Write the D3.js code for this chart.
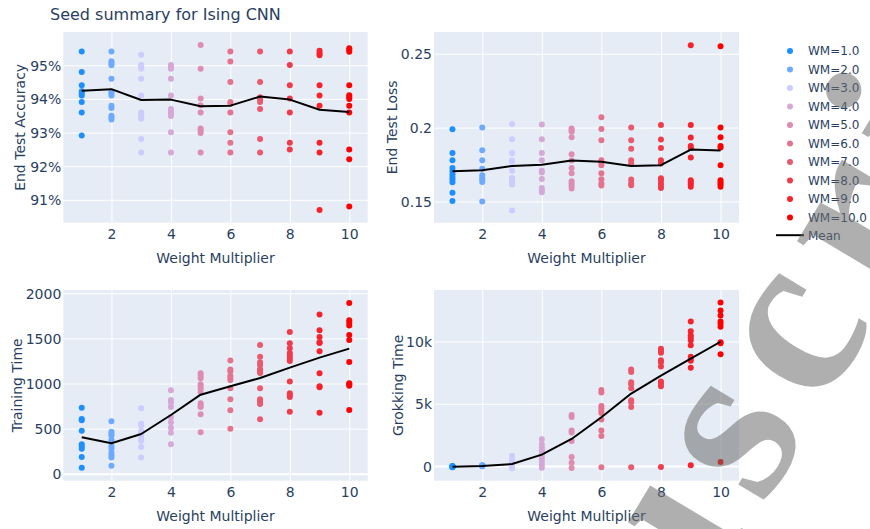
<!DOCTYPE html>
<html>
<head>
<meta charset="utf-8">
<script src="https://cdn.jsdelivr.net/npm/d3@7"></script>
<style>
  html, body { margin: 0; padding: 0; background: #fff; }
  svg { display: block; font-family: "DejaVu Sans", Verdana, sans-serif; }
</style>
</head>
<body>
<svg id="chart" width="870" height="529"></svg>
<script>
// ---- data -------------------------------------------------------------
const weightMultipliers = [1, 2, 3, 4, 5, 6, 7, 8, 9, 10];
const legendLabels = ["WM=1.0", "WM=2.0", "WM=3.0", "WM=4.0", "WM=5.0",
                      "WM=6.0", "WM=7.0", "WM=8.0", "WM=9.0", "WM=10.0"];
const seriesColors = ["#1e8fff", "#6eaaff", "#ccccff", "#d6a8d6", "#dd8cb2",
                      "#e3738f", "#e95a6e", "#ef3c4b", "#f6232d", "#ff0000"];

// per-seed end test accuracy, one list per weight multiplier
const endTestAccuracy = [
  [0.9541, 0.9480, 0.9441, 0.9423, 0.9416, 0.9410, 0.9391, 0.9360, 0.9291],
  [0.9541, 0.9512, 0.9506, 0.9500, 0.9460, 0.9421, 0.9416, 0.9410, 0.9380, 0.9373, 0.9350, 0.9345, 0.9339],
  [0.9531, 0.9501, 0.9495, 0.9490, 0.9460, 0.9410, 0.9360, 0.9353, 0.9347, 0.9341, 0.9281, 0.9241],
  [0.9501, 0.9495, 0.9490, 0.9460, 0.9410, 0.9370, 0.9364, 0.9356, 0.9349, 0.9301, 0.9241],
  [0.9560, 0.9490, 0.9401, 0.9381, 0.9360, 0.9312, 0.9306, 0.9299, 0.9241],
  [0.9541, 0.9511, 0.9450, 0.9391, 0.9385, 0.9360, 0.9301, 0.9270, 0.9241],
  [0.9541, 0.9450, 0.9405, 0.9398, 0.9391, 0.9370, 0.9281, 0.9241],
  [0.9541, 0.9501, 0.9441, 0.9401, 0.9360, 0.9270, 0.9250],
  [0.9543, 0.9536, 0.9530, 0.9441, 0.9410, 0.9380, 0.9270, 0.9241, 0.9070],
  [0.9551, 0.9546, 0.9540, 0.9441, 0.9411, 0.9405, 0.9400, 0.9380, 0.9360, 0.9250, 0.9221, 0.9080]
];
const endTestAccuracyMean = [0.9424, 0.9429, 0.9397, 0.9398, 0.9378, 0.9380, 0.9407, 0.9398, 0.9368, 0.9361];

// per-seed end test loss
const endTestLoss = [
  [0.1989, 0.1828, 0.1779, 0.1727, 0.1705, 0.1684, 0.1666, 0.1650, 0.1630, 0.1558, 0.1503],
  [0.2000, 0.1847, 0.1779, 0.1722, 0.1677, 0.1661, 0.1648, 0.1632, 0.1499],
  [0.2025, 0.1921, 0.1828, 0.1777, 0.1768, 0.1707, 0.1659, 0.1643, 0.1628, 0.1614, 0.1438],
  [0.2020, 0.1921, 0.1828, 0.1779, 0.1709, 0.1695, 0.1652, 0.1591, 0.1576, 0.1562],
  [0.1993, 0.1982, 0.1971, 0.1935, 0.1819, 0.1777, 0.1727, 0.1691, 0.1637, 0.1621, 0.1605, 0.1587],
  [0.2070, 0.1991, 0.1914, 0.1779, 0.1765, 0.1745, 0.1691, 0.1650, 0.1621, 0.1607],
  [0.2000, 0.1914, 0.1856, 0.1779, 0.1756, 0.1648, 0.1625, 0.1609],
  [0.2018, 0.1919, 0.1862, 0.1779, 0.1756, 0.1657, 0.1643, 0.1621, 0.1605, 0.1591],
  [0.2558, 0.2018, 0.1932, 0.1876, 0.1862, 0.1797, 0.1643, 0.1630, 0.1616, 0.1600],
  [0.2551, 0.2000, 0.1935, 0.1876, 0.1865, 0.1745, 0.1643, 0.1630, 0.1616, 0.1600]
];
const endTestLossMean = [0.1704, 0.1711, 0.1740, 0.1749, 0.1777, 0.1768, 0.1740, 0.1745, 0.1851, 0.1844];

// per-seed training time
const trainingTime = [
  [732, 606, 592, 477, 325, 300, 277, 185, 67],
  [581, 466, 444, 422, 373, 303, 277, 233, 203, 178, 89],
  [725, 555, 536, 477, 451, 422, 396, 366, 296, 178],
  [925, 817, 788, 740, 625, 569, 510, 455, 325],
  [1113, 1087, 1058, 991, 965, 939, 902, 780, 754, 740, 658, 459],
  [1254, 1154, 1135, 1087, 1061, 1039, 947, 825, 703, 499],
  [1427, 1298, 1235, 1206, 1157, 1139, 1117, 947, 825, 799, 773, 603],
  [1572, 1446, 1390, 1339, 1309, 1280, 1250, 1021, 891, 873, 851, 688],
  [1764, 1590, 1516, 1457, 1450, 1357, 1113, 969, 958, 677],
  [1893, 1701, 1675, 1642, 1538, 1483, 1239, 1002, 991, 976, 706]
];
const trainingTimeMean = [403, 337, 440, 651, 876, 969, 1061, 1176, 1287, 1387];

// per-seed grokking time
const grokkingTime = [
  [-110, -80, -60, -40, -20, 0, -50, -90],
  [60, 40, 20, 0, -20, 30, 10],
  [831, 483, 349, 161, -54, -188, 100, 250],
  [2145, 1743, 1501, 1287, 1153, 938, 751, 563, 349, 80, -134],
  [4102, 3941, 2842, 2681, 2011, 724, 268, -161],
  [6113, 5898, 4826, 4638, 4424, 4263, 3727, 2842, 2413, -107],
  [7748, 7560, 6729, 6568, 6247, 5282, 5121, 4745, -107],
  [9410, 9249, 9089, 8499, 8338, 7989, 6783, 6622, 6408, -80],
  [11609, 10831, 10510, 10322, 10107, 9705, 8767, 8606, 8445, 7882, 54],
  [13137, 12493, 12091, 11609, 11421, 11180, 9947, 9866, 8981, 322]
];
const grokkingTimeMean = [-54, 0, 161, 912, 2172, 3914, 5818, 7266, 8633, 9980];

const xTicks = [2, 4, 6, 8, 10];
const accuracyTicks = [0.91, 0.92, 0.93, 0.94, 0.95];
const lossTicks = [0.15, 0.2, 0.25];
const trainingTicks = [0, 500, 1000, 1500, 2000];
const grokkingTicks = [0, 5000, 10000];

// ---- layout -----------------------------------------------------------
const TEXT = "#2a3f5f";
const PLOT_BG = "#e5ecf6";
const cols = [{ x0: 63.3, x1: 367.7 }, { x0: 434, x1: 739 }];
const rows = [{ y0: 32, y1: 222.7 }, { y0: 290, y1: 480.7 }];
const xDomain = [0.38, 10.62];

const panels = [
  { col: 0, row: 0, values: endTestAccuracy, mean: endTestAccuracyMean, domain: [0.9032, 0.9599],
    ticks: accuracyTicks, fmt: d3.format(".0%"), title: "End Test Accuracy", titleX: 25.2, zero: false },
  { col: 1, row: 0, values: endTestLoss, mean: endTestLossMean, domain: [0.1356, 0.2647],
    ticks: lossTicks, fmt: d3.format("~g"), title: "End Test Loss", titleX: 396.9, zero: false },
  { col: 0, row: 1, values: trainingTime, mean: trainingTimeMean, domain: [-78, 2037],
    ticks: trainingTicks, fmt: d3.format("d"), title: "Training Time", titleX: 21.9, zero: true },
  { col: 1, row: 1, values: grokkingTime, mean: grokkingTimeMean, domain: [-1181, 14137],
    ticks: grokkingTicks, fmt: d3.format("~s"), title: "Grokking Time", titleX: 402.9, zero: true }
];

const svg = d3.select("#chart");

// title
svg.append("text")
  .attr("x", 50).attr("y", 20)
  .attr("font-size", 16).attr("fill", TEXT)
  .text("Seed summary for Ising CNN");

panels.forEach(p => {
  const c = cols[p.col], r = rows[p.row];
  const x = d3.scaleLinear().domain(xDomain).range([c.x0, c.x1]);
  const y = d3.scaleLinear().domain(p.domain).range([r.y1, r.y0]);
  const g = svg.append("g");

  g.append("rect")
    .attr("x", c.x0).attr("y", r.y0)
    .attr("width", c.x1 - c.x0).attr("height", r.y1 - r.y0)
    .attr("fill", PLOT_BG);

  // vertical gridlines + x tick labels
  const xAxis = g.append("g")
    .attr("transform", `translate(0,${r.y1})`)
    .call(d3.axisBottom(x).tickValues(xTicks).tickSize(-(r.y1 - r.y0)).tickPadding(6).tickFormat(d3.format("d")));
  xAxis.select(".domain").remove();
  xAxis.selectAll(".tick line").attr("stroke", "#fff").attr("stroke-width", 1);
  xAxis.selectAll(".tick text").attr("fill", TEXT).attr("font-size", 14)
    .attr("font-family", "DejaVu Sans, Verdana, sans-serif");

  // horizontal gridlines + y tick labels
  const yAxis = g.append("g")
    .attr("transform", `translate(${c.x0},0)`)
    .call(d3.axisLeft(y).tickValues(p.ticks).tickSize(-(c.x1 - c.x0)).tickPadding(2).tickFormat(p.fmt));
  yAxis.select(".domain").remove();
  yAxis.selectAll(".tick line").attr("stroke", "#fff")
    .attr("stroke-width", d => (p.zero && d === 0) ? 2 : 1);
  yAxis.selectAll(".tick text").attr("fill", TEXT).attr("font-size", 14).attr("dy", "0.36em")
    .attr("font-family", "DejaVu Sans, Verdana, sans-serif");

  // axis titles
  g.append("text")
    .attr("x", (c.x0 + c.x1) / 2).attr("y", r.y1 + 40)
    .attr("text-anchor", "middle").attr("font-size", 14).attr("fill", TEXT)
    .text("Weight Multiplier");
  g.append("text")
    .attr("transform", `translate(${p.titleX},${(r.y0 + r.y1) / 2}) rotate(-90)`)
    .attr("text-anchor", "middle").attr("font-size", 14).attr("fill", TEXT)
    .text(p.title);

  // per-seed markers
  weightMultipliers.forEach((wm, i) => {
    g.append("g").selectAll("circle")
      .data(p.values[i])
      .join("circle")
      .attr("cx", x(wm)).attr("cy", d => y(d)).attr("r", 3)
      .attr("fill", seriesColors[i]);
  });

  // mean line
  const line = d3.line().x((d, i) => x(weightMultipliers[i])).y(d => y(d));
  g.append("path")
    .datum(p.mean)
    .attr("d", line)
    .attr("fill", "none").attr("stroke", "#000").attr("stroke-width", 2)
    .attr("stroke-linejoin", "round");
});

// legend
const legend = svg.append("g").attr("font-size", 12).attr("fill", TEXT);
const legendY = i => 51 + i * 18.5;
legendLabels.forEach((lab, i) => {
  legend.append("circle").attr("cx", 790).attr("cy", legendY(i)).attr("r", 3)
    .attr("fill", seriesColors[i]);
  legend.append("text").attr("x", 808).attr("y", legendY(i)).attr("dy", "0.36em").text(lab);
});
const meanRowY = legendY(legendLabels.length) - 0.8;
legend.append("line").attr("x1", 776).attr("x2", 804).attr("y1", meanRowY).attr("y2", meanRowY)
  .attr("stroke", "#000").attr("stroke-width", 2);
legend.append("text").attr("x", 808).attr("y", meanRowY).attr("dy", "0.36em").text("Mean");

// diagonal watermark
svg.append("text")
  .attr("transform", "translate(408,1098) rotate(-59)")
  .attr("font-family", "Liberation Serif, serif")
  .attr("font-weight", "bold")
  .attr("font-size", 235)
  .attr("letter-spacing", 22)
  .attr("dx", "0 0 0 0 0 0 0 0 -25")
  .attr("fill", "rgb(110,110,110)")
  .attr("fill-opacity", 0.55)
  .text("Manuscript");
</script>
</body>
</html>
